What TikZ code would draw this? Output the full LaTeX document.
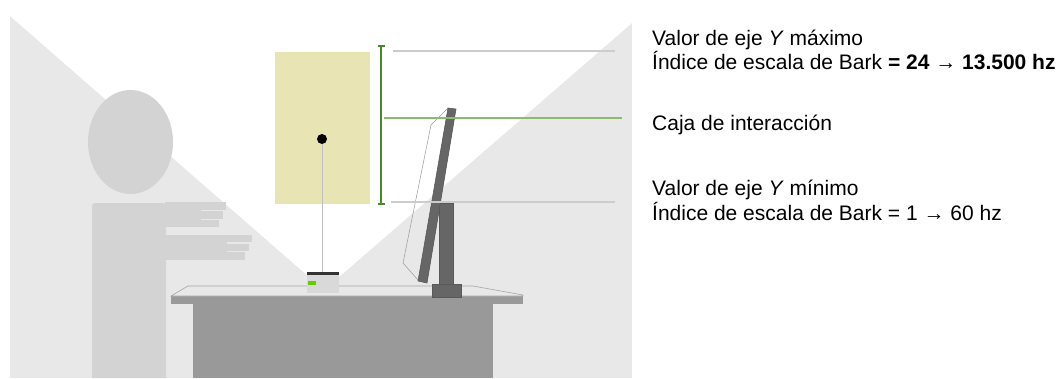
\documentclass[tikz,border=0pt]{standalone}
\usepackage{fontspec}
\setmainfont{Liberation Sans}
\definecolor{roomgray}{HTML}{E8E8E8}
\definecolor{persongray}{HTML}{D3D3D3}
\definecolor{boxyellow}{HTML}{E8E4B4}
\definecolor{deskgray}{HTML}{999999}
\definecolor{monitorgray}{HTML}{666666}
\definecolor{darkgreen}{HTML}{4A8A24}
\definecolor{lightgreen}{HTML}{8DBB6C}
\definecolor{ledgreen}{HTML}{66CC00}
\tikzset{
  limitline/.style={draw=black!20, line width=1.2pt},
  captext/.style={anchor=base west, inner sep=0pt, font=\fontsize{21}{24}\selectfont},
  finger/.style={fill=persongray},
  monitorpart/.style={fill=monitorgray, draw=black!65, line width=0.6pt}
}
\begin{document}
\begin{tikzpicture}[x=1pt,y=-1pt]
\useasboundingbox (0,0) rectangle (1064,378);
% room with the sensor's field of view
\fill[roomgray] (10,16) rectangle (632,378);
\fill[white] (10,16) -- (324,290) -- (632,23) -- (632,16) -- cycle;
% person
\fill[persongray] (130.5,142) ellipse [x radius=42.5, y radius=52];
\fill[persongray, rounded corners=3pt] (92,378) -- (92,203) -- (166,203) [sharp corners] -- (166,378) -- cycle;
\fill[persongray] (165,202) rectangle (201,227);
\fill[finger] (200,202) rectangle (226,209.5);
\fill[finger] (200,211) rectangle (223,218.5);
\fill[finger] (200,220) rectangle (219,227);
\fill[persongray] (165,235) rectangle (227,260);
\fill[finger] (226,235) rectangle (252,242);
\fill[finger] (226,243.5) rectangle (249,250.5);
\fill[finger] (226,252) rectangle (245,260);
% interaction box
\fill[boxyellow] (275,52) rectangle (370,204);
% desk
\fill[deskgray] (193,304) rectangle (493,378);
\fill[deskgray] (171,296) rectangle (523,304);
\filldraw[fill=roomgray, draw=black!35, line width=0.6pt] (171,296) -- (188,286) -- (473,286) -- (523,295) -- (523,296) -- cycle;
% sensor
\fill[black!15] (307,274) rectangle (339,293);
\fill[black!80] (307,272) rectangle (339,275);
\fill[ledgreen] (308,281) rectangle (316,285);
\coordinate (sensor) at (322,272);
\node[circle, fill=black, inner sep=0pt, minimum size=10pt] (dot) at (322,139) {};
\draw[black!25, line width=0.8pt] (dot) -- (sensor);
% monitor
\draw[black!40, line width=0.5pt] (448,108) -- (431,125) -- (403,263) -- (418,280);
\filldraw[monitorpart] (439,203) rectangle (453,287);
\filldraw[monitorpart] (432,284) rectangle (461,297);
\filldraw[monitorpart] (448,108) -- (456,109) -- (427,283) -- (418,281) -- cycle;
% y axis range
\draw[limitline] (393,51) -- (615,51);
\draw[limitline] (391,202) -- (615,202);
\draw[lightgreen, line width=1.8pt] (384,118) -- (622,118);
\draw[darkgreen, line width=1.6pt] (381,46) -- (381,204);
\draw[darkgreen, line width=1.6pt] (378,46) -- (385,46);
\draw[darkgreen, line width=1.6pt] (378,204) -- (385,204);
% labels
\node[captext] (maxtitle) at (652,45) {Valor de eje \textit{Y} máximo};
\node[captext] (maxvalue) at (652,69) {Índice de escala de Bark \textbf{= 24} → \textbf{13.500 hz}};
\node[captext] (boxlabel) at (652,130) {Caja de interacción};
\node[captext] (mintitle) at (652,195) {Valor de eje \textit{Y} mínimo};
\node[captext] (minvalue) at (652,220) {Índice de escala de Bark = 1 → 60 hz};
\end{tikzpicture}
\end{document}
